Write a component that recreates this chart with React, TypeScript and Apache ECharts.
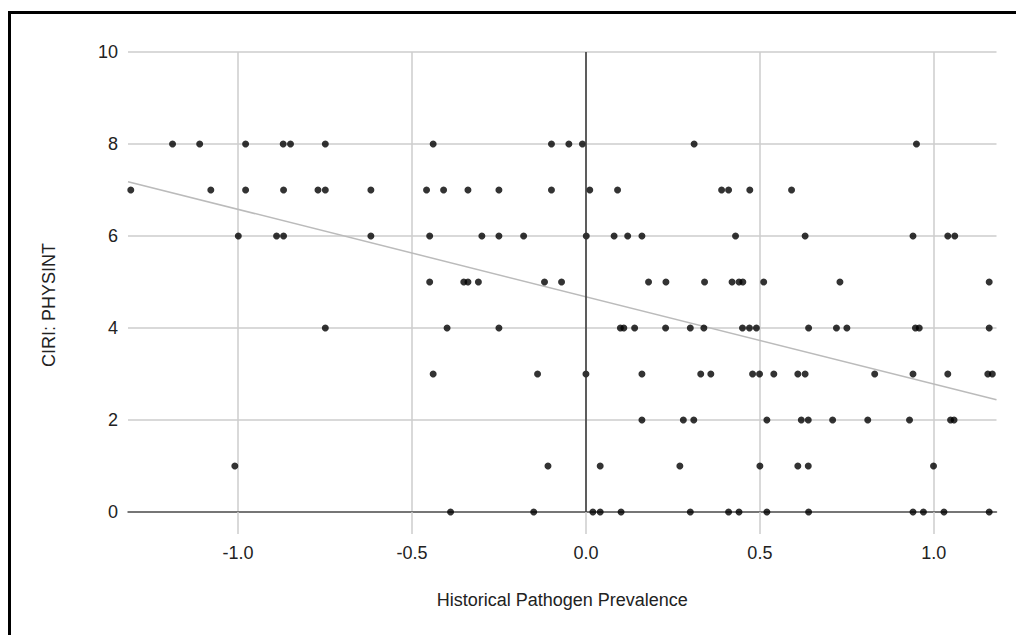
import React, { useEffect, useRef } from "react";
import * as echarts from "echarts";

// Tick labels
const X_TICKS = [-1.0, -0.5, 0.0, 0.5, 1.0];
const Y_TICKS = [0, 2, 4, 6, 8, 10];

// Axis ranges
const X_MIN = -1.316;
const X_MAX = 1.18;
const Y_MIN = 0;
const Y_MAX = 10;

// Trendline (linear fit)
const TREND_INTERCEPT = 4.68;
const TREND_SLOPE = -1.9;

// Historical Pathogen Prevalence values, grouped by CIRI: PHYSINT score
const X_AT_8 = [-1.188, -1.11, -0.978, -0.87, -0.849, -0.749, -0.439, -0.099, -0.049, -0.01, 0.311, 0.95];
const X_AT_7 = [-1.308, -1.078, -0.978, -0.869, -0.77, -0.749, -0.618, -0.458, -0.409, -0.339, -0.25, -0.099, 0.011, 0.091, 0.39, 0.41, 0.471, 0.591];
const X_AT_6 = [-0.999, -0.889, -0.869, -0.618, -0.449, -0.299, -0.25, -0.179, 0.001, 0.081, 0.12, 0.161, 0.43, 0.63, 0.94, 1.04, 1.06];
const X_AT_5 = [-0.449, -0.351, -0.339, -0.309, -0.119, -0.07, 0.18, 0.23, 0.341, 0.42, 0.44, 0.451, 0.511, 0.73, 1.159];
const X_AT_4 = [-0.749, -0.399, -0.25, 0.099, 0.109, 0.14, 0.229, 0.3, 0.339, 0.45, 0.47, 0.49, 0.64, 0.72, 0.75, 0.947, 0.958, 1.159];
const X_AT_3 = [-0.439, -0.139, 0.0, 0.161, 0.33, 0.359, 0.479, 0.499, 0.54, 0.609, 0.63, 0.83, 0.94, 1.04, 1.155, 1.168];
const X_AT_2 = [0.161, 0.28, 0.31, 0.52, 0.619, 0.639, 0.709, 0.81, 0.93, 1.048, 1.058];
const X_AT_1 = [-1.009, -0.109, 0.041, 0.27, 0.5, 0.609, 0.639, 0.999];
const X_AT_0 = [-0.389, -0.15, 0.02, 0.041, 0.101, 0.3, 0.41, 0.44, 0.52, 0.64, 0.94, 0.97, 1.029, 1.159];

const GROUPS: [number, number[]][] = [
  [8, X_AT_8],
  [7, X_AT_7],
  [6, X_AT_6],
  [5, X_AT_5],
  [4, X_AT_4],
  [3, X_AT_3],
  [2, X_AT_2],
  [1, X_AT_1],
  [0, X_AT_0],
];

const FONT = "'Liberation Sans', Arial, Helvetica, sans-serif";

export default function App() {
  const ref = useRef<HTMLDivElement>(null);

  useEffect(() => {
    if (!ref.current) return;
    const chart = echarts.init(ref.current, null, { renderer: "svg" });

    const points: number[][] = [];
    GROUPS.forEach(([y, xs]) => xs.forEach((x) => points.push([x, y])));

    const trend = [
      [X_MIN, TREND_INTERCEPT + TREND_SLOPE * X_MIN],
      [X_MAX, TREND_INTERCEPT + TREND_SLOPE * X_MAX],
    ];

    chart.setOption({
      animation: false,
      backgroundColor: "#ffffff",
      grid: { left: 128, right: 19.5, top: 52, bottom: 123, containLabel: false },
      xAxis: {
        type: "value",
        min: X_MIN,
        max: X_MAX,
        name: "Historical Pathogen Prevalence",
        nameLocation: "middle",
        nameGap: 79,
        nameTextStyle: { fontFamily: FONT, fontSize: 18, color: "#222" },
        axisLine: { show: true, onZero: false, lineStyle: { color: "#555", width: 1.5 } },
        axisTick: {
          show: true,
          customValues: X_TICKS,
          length: 22,
          inside: false,
          lineStyle: { color: "#cccccc", width: 1.5 },
        },
        axisLabel: {
          customValues: X_TICKS,
          margin: 32,
          fontFamily: FONT,
          fontSize: 18,
          color: "#222",
          formatter: (v: number) => v.toFixed(1),
        },
        splitLine: { show: true, lineStyle: { color: "#cccccc", width: 1.5 } },
      },
      yAxis: {
        type: "value",
        min: Y_MIN,
        max: Y_MAX,
        interval: 2,
        axisLine: { show: false },
        axisTick: { show: false },
        axisLabel: {
          margin: 10,
          fontFamily: FONT,
          fontSize: 18,
          color: "#222",
          formatter: (v: number) => (Y_TICKS.includes(v) ? String(v) : ""),
        },
        splitLine: { show: true, lineStyle: { color: "#cccccc", width: 1.5 } },
      },
      graphic: [
        {
          type: "text",
          x: 49,
          y: 305,
          rotation: Math.PI / 2,
          style: {
            text: "CIRI: PHYSINT",
            fontFamily: FONT,
            fontSize: 18,
            fill: "#222",
            align: "center",
            verticalAlign: "middle",
          },
        },
        {
          type: "rect",
          shape: { x: 9.5, y: 12.5, width: 1200, height: 800 },
          style: { fill: "none", stroke: "#000", lineWidth: 3 },
          silent: true,
        },
      ],
      series: [
        {
          type: "line",
          data: trend,
          showSymbol: false,
          symbol: "none",
          lineStyle: { color: "#bbbbbb", width: 1.5 },
          silent: true,
          z: 2,
          markLine: {
            silent: true,
            symbol: "none",
            label: { show: false },
            lineStyle: { color: "#333", width: 1.5, type: "solid" },
            data: [{ xAxis: 0 }],
          },
        },
        {
          type: "scatter",
          data: points,
          symbol: "circle",
          symbolSize: 7,
          itemStyle: { color: "#000" },
          z: 3,
        },
      ],
    });

    return () => chart.dispose();
  }, []);

  return (
    <div
      ref={ref}
      style={{ position: "absolute", left: 0, top: 0, width: 1016, height: 635 }}
    />
  );
}
